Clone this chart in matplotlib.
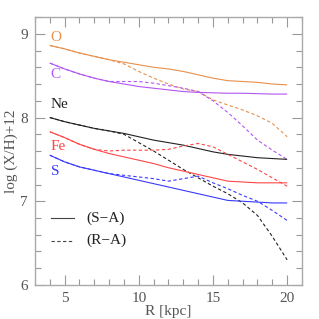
import matplotlib
matplotlib.use("Agg")
import matplotlib.pyplot as plt
from matplotlib.ticker import MultipleLocator

R = [4, 5, 6, 7, 8, 9, 10, 11, 12, 13, 14, 15, 16, 17, 18, 19, 20]

O_SA = [8.86, 8.82, 8.77, 8.73, 8.69, 8.66, 8.63, 8.60, 8.58, 8.55, 8.51, 8.47, 8.44, 8.43, 8.42, 8.40, 8.39]
O_RA = [8.86, 8.82, 8.77, 8.73, 8.69, 8.64, 8.55, 8.47, 8.40, 8.34, 8.31, 8.21, 8.15, 8.09, 8.02, 7.93, 7.77]

C_SA = [8.65, 8.58, 8.52, 8.47, 8.43, 8.40, 8.37, 8.35, 8.33, 8.31, 8.30, 8.295, 8.29, 8.29, 8.285, 8.28, 8.28]
C_RA = [8.65, 8.58, 8.52, 8.47, 8.43, 8.43, 8.43, 8.41, 8.38, 8.35, 8.31, 8.20, 8.06, 7.90, 7.73, 7.61, 7.50]

Ne_SA = [8.00, 7.95, 7.91, 7.87, 7.84, 7.81, 7.77, 7.73, 7.70, 7.67, 7.63, 7.59, 7.56, 7.54, 7.52, 7.51, 7.50]
Ne_RA = [8.00, 7.95, 7.91, 7.87, 7.84, 7.80, 7.70, 7.60, 7.49, 7.38, 7.28, 7.18, 7.09, 6.98, 6.83, 6.58, 6.30]

Fe_SA = [7.83, 7.76, 7.68, 7.62, 7.57, 7.53, 7.49, 7.45, 7.40, 7.36, 7.32, 7.28, 7.24, 7.23, 7.22, 7.22, 7.22]
Fe_RA = [7.83, 7.76, 7.68, 7.62, 7.60, 7.61, 7.61, 7.61, 7.62, 7.66, 7.69, 7.65, 7.56, 7.47, 7.38, 7.28, 7.18]

S_SA = [7.55, 7.47, 7.41, 7.37, 7.33, 7.29, 7.25, 7.21, 7.17, 7.13, 7.09, 7.05, 7.01, 7.00, 6.99, 6.98, 6.98]
S_RA = [7.55, 7.47, 7.41, 7.37, 7.33, 7.31, 7.29, 7.27, 7.24, 7.27, 7.30, 7.22, 7.15, 7.07, 7.00, 6.89, 6.77]

elements = ["O", "C", "Ne", "Fe", "S"]
colors = ["#E8904C", "#B456F2", "#222222", "#FF4646", "#3A3AFF"]
label_pos = [(4.05, 8.95), (4.05, 8.51), (4.05, 8.15), (4.05, 7.65), (4.05, 7.35)]
sa = [O_SA, C_SA, Ne_SA, Fe_SA, S_SA]
ra = [O_RA, C_RA, Ne_RA, Fe_RA, S_RA]

plt.rcParams['font.family'] = ['Liberation Serif', 'DejaVu Serif']

fig = plt.figure(figsize=(3.19, 3.19), dpi=100)
ax = fig.add_axes([0.1097, 0.1066, 0.837, 0.840])

for name, c, pos, s, r in zip(elements, colors, label_pos, sa, ra):
    ax.plot(R, s, color=c, lw=0.8, solid_capstyle='butt')
    ax.plot(R, r, color=c, lw=0.8, dashes=(3, 2.2))
    ax.text(pos[0], pos[1], name, color=c, fontsize=11, ha='left', va='center')

# legend
ax.plot([4.1, 5.6], [6.8, 6.8], color='#444444', lw=0.8)
ax.plot([4.1, 5.6], [6.53, 6.53], color='#444444', lw=0.8, dashes=(3, 2.2))
ax.text(6.45, 6.8, "(S\u2212A)", fontsize=11, va='center', ha='left', color='#222222')
ax.text(6.45, 6.53, "(R\u2212A)", fontsize=11, va='center', ha='left', color='#222222')

ax.set_xlim(3, 21)
ax.set_ylim(6, 9.2)
ax.xaxis.set_major_locator(MultipleLocator(5))
ax.xaxis.set_minor_locator(MultipleLocator(1))
ax.yaxis.set_major_locator(MultipleLocator(1))
ax.yaxis.set_minor_locator(MultipleLocator(0.2))
ax.tick_params(which='both', direction='in', top=True, right=True, color='#999999',
               labelcolor='#555555', labelsize=11, width=0.8)
ax.tick_params(which='major', length=7, pad=5)
ax.tick_params(which='minor', length=4)
for sp in ax.spines.values():
    sp.set_color('#aaaaaa')
    sp.set_linewidth(1.0)

ax.set_xlabel("R [kpc]", fontsize=11, color='#555555', labelpad=0)
ax.set_ylabel("log (X/H)+12", fontsize=11, color='#555555', labelpad=2)

fig.savefig("out.png", dpi=100)
